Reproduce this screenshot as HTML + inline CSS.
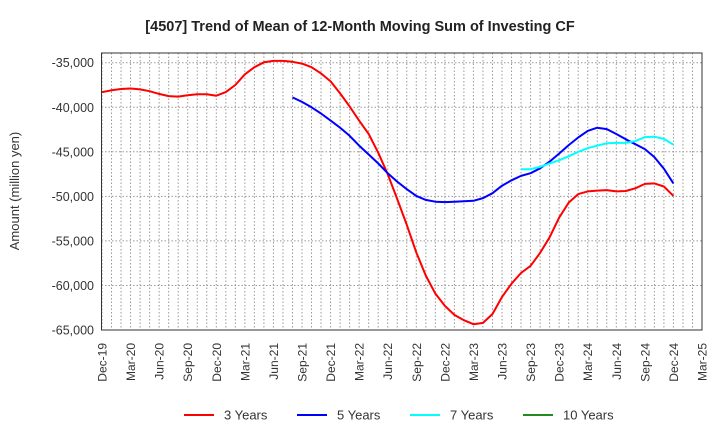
<!DOCTYPE html>
<html><head><meta charset="utf-8"><style>
body{margin:0;background:#fff;}
svg{font-family:"Liberation Sans",Arial,sans-serif;}
</style></head><body>
<svg id="chart" width="720" height="440" viewBox="0 0 720 440">
<rect width="720" height="440" fill="#fff"/>
<text x="360" y="31" text-anchor="middle" font-size="14.5" font-weight="bold" fill="#222">[4507]  Trend of Mean of 12-Month Moving Sum of Investing CF</text>
<g id="grid"></g>
<g id="axes"></g>
<g id="series"></g>
<rect x="101.5" y="53" width="600.5" height="277" fill="none" stroke="#333" stroke-width="1"/>
<text transform="translate(19,191) rotate(-90)" text-anchor="middle" font-size="13" fill="#333">Amount (million yen)</text>
<g id="legend"></g>
</svg>
<script>
const months = 64; // Dec-19 .. Mar-25
const xTickLabels = ["Dec-19","Mar-20","Jun-20","Sep-20","Dec-20","Mar-21","Jun-21","Sep-21","Dec-21","Mar-22","Jun-22","Sep-22","Dec-22","Mar-23","Jun-23","Sep-23","Dec-23","Mar-24","Jun-24","Sep-24","Dec-24","Mar-25"];
const yTicks = [-35000,-40000,-45000,-50000,-55000,-60000,-65000];
const yTickLabels = ["-35,000","-40,000","-45,000","-50,000","-55,000","-60,000","-65,000"];
const seriesNames = ["3 Years","5 Years","7 Years","10 Years"];
const seriesColors = ["#ff0000","#0000ff","#00ffff","#228b22"];
const start3 = 0;
const values3 = [-38300,-38100,-37950,-37900,-38000,-38200,-38500,-38750,-38800,-38650,-38550,-38550,-38700,-38300,-37500,-36300,-35500,-34950,-34800,-34800,-34900,-35100,-35500,-36200,-37100,-38450,-39900,-41500,-43000,-45100,-47500,-50300,-53200,-56300,-58900,-60900,-62300,-63300,-63900,-64350,-64200,-63200,-61300,-59800,-58600,-57800,-56350,-54600,-52400,-50700,-49750,-49450,-49350,-49300,-49450,-49400,-49100,-48600,-48550,-48900,-49950];
const start5 = 20;
const values5 = [-38900,-39400,-40000,-40700,-41500,-42300,-43200,-44300,-45300,-46300,-47400,-48350,-49200,-49950,-50400,-50600,-50650,-50600,-50550,-50500,-50200,-49650,-48800,-48200,-47700,-47400,-46850,-46100,-45200,-44250,-43400,-42650,-42300,-42450,-43000,-43600,-44150,-44700,-45600,-46900,-48550];
const start7 = 44;
const values7 = [-46950,-46950,-46700,-46300,-45950,-45500,-45000,-44600,-44300,-44050,-44000,-44000,-43800,-43350,-43300,-43550,-44200];
const start10 = 0;
const values10 = [];

const X0=102, X1=702, Y0=-35000, PY0=62.7, PXPER=44.55/5000;
const xScale = m => X0 + (X1-X0)*m/(months-1);
const yScale = v => PY0 + (Y0 - v)*PXPER;
const NS="http://www.w3.org/2000/svg";
function mk(tag, attrs, parent){const e=document.createElementNS(NS,tag);for(const k in attrs)e.setAttribute(k,attrs[k]);parent.appendChild(e);return e;}
const grid=document.getElementById('grid'), axes=document.getElementById('axes'), ser=document.getElementById('series'), leg=document.getElementById('legend');
for(let m=0;m<months;m++){
  const x=xScale(m);
  const l=mk('line',{x1:x,x2:x,y1:53,y2:330,stroke:'#999','stroke-width':1,'stroke-dasharray':'1.5,2'},grid);
  
  
}
yTicks.forEach((v,i)=>{
  const y=yScale(v);
  const l=mk('line',{x1:101.5,x2:702,y1:y,y2:y,stroke:'#999','stroke-width':1,'stroke-dasharray':'1.5,2'},grid);
  
  
  const t=mk('text',{x:94,y:y+4.5,'text-anchor':'end','font-size':12.5,fill:'#333'},axes);
  t.textContent=yTickLabels[i];
  
  
});
xTickLabels.forEach((lab,i)=>{
  const x=xScale(i*3);
  const t=mk('text',{transform:`translate(${x+4.5},343) rotate(-90)`,'text-anchor':'end','font-size':12,fill:'#333'},axes);
  t.textContent=lab;
  
  
});
[[start3,values3],[start5,values5],[start7,values7],[start10,values10]].forEach(([s,vals],k)=>{
  if(!vals.length) return;
  const pts=vals.map((v,i)=>xScale(s+i).toFixed(1)+','+yScale(v).toFixed(1)).join(' ');
  const p=mk('polyline',{points:pts,fill:'none',stroke:seriesColors[k],'stroke-width':2,'stroke-linejoin':'round'},ser);
  
  
});
const legX=[184,297,410,523];
seriesNames.forEach((n,k)=>{
  const g=mk('g',{},leg);
  
  
  mk('line',{x1:legX[k],x2:legX[k]+30,y1:415,y2:415,stroke:seriesColors[k],'stroke-width':2},g);
  const t=mk('text',{x:legX[k]+40,y:419.5,'font-size':13,fill:'#333'},g);
  t.textContent=n;
});
</script>
</body></html>
